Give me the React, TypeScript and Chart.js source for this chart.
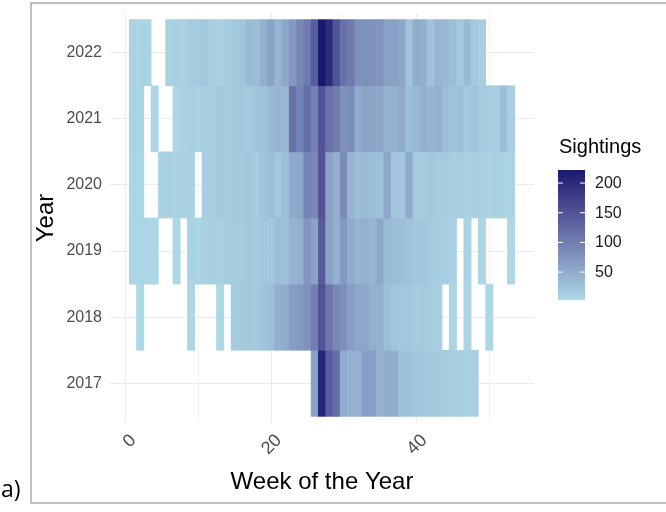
import React, { useEffect, useRef } from "react";
import { Chart, registerables } from "chart.js";

Chart.register(...registerables);

// ---------------- data ----------------
const WEEKS = [1, 2, 3, 4, 5, 6, 7, 8, 9, 10, 11, 12, 13, 14, 15, 16, 17, 18, 19, 20, 21, 22, 23, 24, 25, 26, 27, 28, 29, 30, 31, 32, 33, 34, 35, 36, 37, 38, 39, 40, 41, 42, 43, 44, 45, 46, 47, 48, 49, 50, 51, 52, 53];
const YEARS = [2017, 2018, 2019, 2020, 2021, 2022];

const S2017 = [null, null, null, null, null, null, null, null, null, null, null, null, null, null, null, null, null, null, null, null, null, null, null, null, null,
  60, 210, 140, 120, 50, 42, 45, 65, 62, 40, 50, 48, 28, 25, 22, 20, 18, 20, 15, 12, 14, 10, 12, null, null, null, null, null];
const S2018 = [null, 3, null, null, null, null, null, null, 4, null, null, null, 4, null, 15, 18, 20, 18, 25, 30, 45, 50, 65, 70, 80,
  100, 150, 110, 90, 80, 65, 55, 55, 45, 42, 30, 22, 20, 22, 15, 18, 15, 12, null, 6, null, 5, null, null, 4, null, null, null];
const S2019 = [5, 6, 5, 4, null, null, 4, null, 8, 6, 10, 12, 10, 15, 18, 15, 20, 18, 22, 20, 30, 28, 40, 45, 75,
  60, 140, 60, 45, 70, 50, 40, 45, 38, 55, 35, 30, 30, 25, 20, 22, 18, 15, 12, 10, null, 8, null, 5, null, null, null, 3];
const S2020 = [6, 5, null, null, 8, 10, 8, 10, 8, null, 12, 15, 18, 15, 20, 18, 22, 15, 25, 30, 20, 30, 50, 55, 95,
  90, 150, 60, 45, 85, 40, 30, 35, 30, 28, 55, 22, 20, 50, 18, 15, 20, 15, 18, 12, 15, 10, 12, 10, 8, 10, 8, 6];
const S2021 = [8, 6, null, 5, null, null, 5, 10, 12, 10, 12, 15, 18, 15, 20, 22, 18, 22, 25, 35, 40, 38, 115, 95, 120,
  95, 150, 115, 105, 80, 85, 50, 60, 55, 55, 40, 45, 50, 30, 35, 45, 40, 45, 30, 25, 30, 20, 25, 18, 15, 12, 30, 12];
const S2022 = [8, 6, 8, null, null, 10, 12, 10, 18, 15, 20, 12, 10, 15, 20, 22, 35, 30, 45, 60, 40, 55, 70, 90, 105,
  140, 222, 200, 150, 115, 105, 80, 80, 78, 75, 60, 62, 55, 25, 50, 45, 25, 40, 38, 30, 20, 35, 18, 12, null, null, null, null];

const SERIES = [S2017, S2018, S2019, S2020, S2021, S2022];
const X_LABELS = [0, 20, 40];
const LEGEND_TICKS = [50, 100, 150, 200];
const LOW_COLOR = "#ADD8E6";
const HIGH_COLOR = "#191970";

// ---------------- colour helpers (Lab interpolation like ggplot) ----------------
function hexToRgb(h: string) {
  const n = parseInt(h.slice(1), 16);
  return [(n >> 16) & 255, (n >> 8) & 255, n & 255];
}
function toLin(c: number) {
  c /= 255;
  return c <= 0.04045 ? c / 12.92 : Math.pow((c + 0.055) / 1.055, 2.4);
}
function fromLin(c: number) {
  const v = c <= 0.0031308 ? 12.92 * c : 1.055 * Math.pow(c, 1 / 2.4) - 0.055;
  return Math.round(Math.max(0, Math.min(1, v)) * 255);
}
const Xn = 0.95047, Yn = 1.0, Zn = 1.08883;
function fl(t: number) { return t > 0.008856 ? Math.cbrt(t) : 7.787 * t + 16 / 116; }
function finv(t: number) { const t3 = t * t * t; return t3 > 0.008856 ? t3 : (t - 16 / 116) / 7.787; }
function rgbToLab(rgb: number[]) {
  const R = toLin(rgb[0]), G = toLin(rgb[1]), B = toLin(rgb[2]);
  const X = 0.4124 * R + 0.3576 * G + 0.1805 * B;
  const Y = 0.2126 * R + 0.7152 * G + 0.0722 * B;
  const Z = 0.0193 * R + 0.1192 * G + 0.9505 * B;
  const fx = fl(X / Xn), fy = fl(Y / Yn), fz = fl(Z / Zn);
  return [116 * fy - 16, 500 * (fx - fy), 200 * (fy - fz)];
}
function labToRgb(lab: number[]) {
  const fy = (lab[0] + 16) / 116, fx = fy + lab[1] / 500, fz = fy - lab[2] / 200;
  const X = Xn * finv(fx), Y = Yn * finv(fy), Z = Zn * finv(fz);
  const R = 3.2406 * X - 1.5372 * Y - 0.4986 * Z;
  const G = -0.9689 * X + 1.8758 * Y + 0.0415 * Z;
  const B = 0.0557 * X - 0.204 * Y + 1.057 * Z;
  return [fromLin(R), fromLin(G), fromLin(B)];
}
const LAB_LOW = rgbToLab(hexToRgb(LOW_COLOR));
const LAB_HIGH = rgbToLab(hexToRgb(HIGH_COLOR));

const ALL_VALUES = SERIES.flat().filter((v) => v != null) as number[];
const VMIN = Math.min(...ALL_VALUES);
const VMAX = Math.max(...ALL_VALUES);

function colorFor(v: number) {
  const t = Math.max(0, Math.min(1, (v - VMIN) / (VMAX - VMIN)));
  const lab = [0, 1, 2].map((i) => LAB_LOW[i] + (LAB_HIGH[i] - LAB_LOW[i]) * t);
  const c = labToRgb(lab);
  return `rgb(${c[0]},${c[1]},${c[2]})`;
}

const FONT = "'Liberation Sans', Arial, sans-serif";

// ---------------- decorations plugin ----------------
const decorPlugin = {
  id: "decor",
  afterDraw(chart: any) {
    const ctx = chart.ctx as CanvasRenderingContext2D;
    const xs = chart.scales.x;
    ctx.save();
    // x tick labels (rotated 45°)
    ctx.fillStyle = "#4D4D4D";
    ctx.font = `18px ${FONT}`;
    ctx.textAlign = "right";
    ctx.textBaseline = "alphabetic";
    X_LABELS.forEach((v) => {
      const px = xs.getPixelForValue(v);
      ctx.save();
      ctx.translate(px + 2, 432);
      ctx.rotate(-Math.PI / 4);
      ctx.fillText(String(v), 0, 13);
      ctx.restore();
    });

    // frame
    ctx.strokeStyle = "#ABABAB";
    ctx.lineWidth = 1.5;
    ctx.beginPath();
    ctx.moveTo(666, 3);
    ctx.lineTo(31, 3);
    ctx.lineTo(31, 503);
    ctx.lineTo(666, 503);
    ctx.stroke();

    // panel label
    ctx.fillStyle = "#000";
    ctx.font = `23px 'Open Sans', ${FONT}`;
    ctx.textAlign = "left";
    ctx.textBaseline = "alphabetic";
    ctx.fillText("a)", 1, 497);

    // legend
    const bx = 558, bw = 27, top = 170, bot = 300;
    const h = bot - top;
    ctx.fillStyle = "#000";
    ctx.font = `20px ${FONT}`;
    ctx.textBaseline = "middle";
    ctx.fillText("Sightings", bx + 1, 147);
    for (let i = 0; i < h; i++) {
      const v = VMIN + (VMAX - VMIN) * (1 - (i + 0.5) / h);
      ctx.fillStyle = colorFor(v);
      ctx.fillRect(bx, top + i, bw, 1.2);
    }
    ctx.font = `16px ${FONT}`;
    LEGEND_TICKS.forEach((v) => {
      const y = bot - ((v - VMIN) / (VMAX - VMIN)) * h;
      ctx.strokeStyle = "#FFFFFF";
      ctx.lineWidth = 1;
      ctx.beginPath();
      ctx.moveTo(bx, y);
      ctx.lineTo(bx + 5, y);
      ctx.moveTo(bx + bw - 5, y);
      ctx.lineTo(bx + bw, y);
      ctx.stroke();
      ctx.fillStyle = "#1A1A1A";
      ctx.fillText(String(v), 595, y + 0.5);
    });
    ctx.restore();
  },
};

export default function App() {
  const ref = useRef<HTMLCanvasElement>(null);
  useEffect(() => {
    if (!ref.current) return;
    const cells: any[] = [];
    YEARS.forEach((yr, i) => {
      SERIES[i].forEach((v, j) => {
        if (v != null) cells.push({ x: [WEEKS[j] - 0.5, WEEKS[j] + 0.5], y: yr, v });
      });
    });
    const chart = new Chart(ref.current, {
      type: "bar",
      data: {
        datasets: [
          {
            data: cells,
            backgroundColor: (c: any) => (c.raw ? colorFor(c.raw.v) : "transparent"),
            borderWidth: 0,
            barPercentage: 1,
            categoryPercentage: 1,
            grouped: false,
          } as any,
        ],
      },
      options: {
        indexAxis: "y",
        animation: false,
        responsive: false,
        devicePixelRatio: 1,
        layout: { padding: { left: 31, right: 132, top: 13, bottom: 9 } },
        plugins: { legend: { display: false }, tooltip: { enabled: false } },
        scales: {
          x: {
            type: "linear",
            min: -2.15,
            max: 56.15,
            offset: false,
            border: { display: false },
            grid: {
              drawTicks: false,
              offset: false,
              color: (c: any) => (c.tick && c.tick.value % 20 === 0 ? "#EBEBEB" : "#F3F3F3"),
              lineWidth: 1,
            },
            ticks: { stepSize: 10, includeBounds: false, display: false, autoSkip: false },
            title: {
              display: true,
              text: "Week of the Year",
              color: "#000",
              font: { family: FONT, size: 24, lineHeight: 1.2 },
              padding: { top: 0, bottom: 6 },
            },
            afterFit: (s: any) => {
              s.height = 80;
              s.paddingLeft = 0;
              s.paddingRight = 0;
            },
          },
          y: {
            type: "linear",
            min: 2016.4,
            max: 2022.6,
            offset: false,
            border: { display: false },
            grid: { drawTicks: false, offset: false, color: "#EBEBEB", lineWidth: 1 },
            ticks: {
              stepSize: 1,
              includeBounds: false,
              padding: 8,
              color: "#4D4D4D",
              font: { family: FONT, size: 16 },
              callback: (v: any) => (YEARS.includes(v) ? String(v) : ""),
            },
            title: {
              display: true,
              text: "Year",
              color: "#000",
              font: { family: FONT, size: 24, lineHeight: 1.2 },
              padding: { top: 1, bottom: 0 },
            },
            afterFit: (s: any) => {
              s.width = 79;
              s.paddingTop = 0;
              s.paddingBottom = 0;
            },
          },
        },
      } as any,
      plugins: [decorPlugin],
    });
    return () => chart.destroy();
  }, []);
  return (
    <div style={{ position: "absolute", left: 0, top: 0, width: 666, height: 512, background: "#fff" }}>
      <canvas ref={ref} width={666} height={512} style={{ display: "block" }} />
    </div>
  );
}
